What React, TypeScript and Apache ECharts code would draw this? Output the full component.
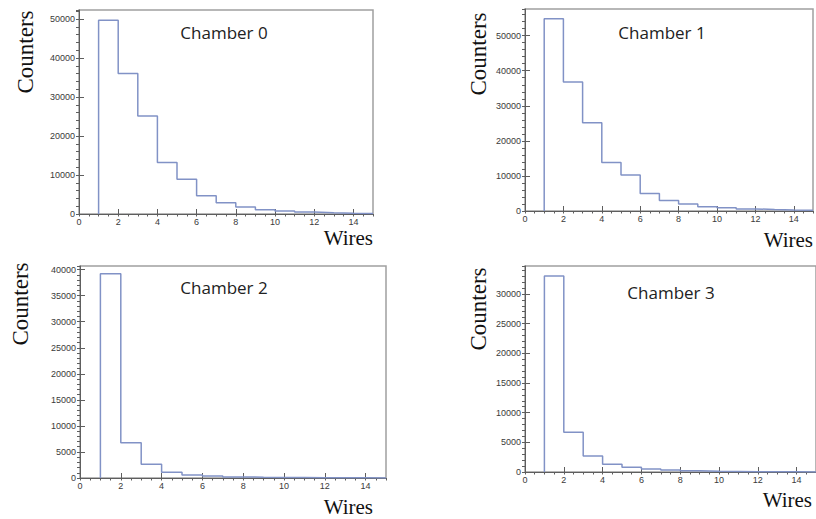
import React, { useEffect, useRef } from "react";
import * as echarts from "echarts";

// Lower edges of the wire-multiplicity bins (each bin is one wire wide)
const binEdges = [1, 2, 3, 4, 5, 6, 7, 8, 9, 10, 11, 12, 13, 14];
const lastEdge = 15;

// Counts per bin for each chamber
const chamber0 = [49700, 36000, 25100, 13200, 8900, 4700, 2900, 1800, 1100, 780, 500, 350, 220, 130];
const chamber1 = [54800, 36800, 25200, 13800, 10300, 5000, 3000, 2000, 1200, 900, 600, 420, 300, 200];
const chamber2 = [39200, 6770, 2620, 1090, 580, 380, 210, 150, 110, 80, 60, 40, 30, 20];
const chamber3 = [33000, 6700, 2700, 1300, 790, 500, 340, 200, 130, 90, 60, 40, 30, 20];

const titles = ["Chamber 0", "Chamber 1", "Chamber 2", "Chamber 3"];
const yMaxes = [52300, 57600, 40700, 34700];
const yMajor = [10000, 10000, 5000, 5000];
const yMinor = [2000, 2000, 1000, 1000];

const LINE = "#8192c6";
const AXIS = "#5e5e5e";
const LABEL = "#3a3a3a";

type Pane = {
  grid: { left: number; top: number; width: number; height: number };
  title: [number, number];
  counters: [number, number];
  wires: [number, number];
};

const panes: Pane[] = [
  { grid: { left: 79, top: 10, width: 294, height: 204 }, title: [224, 32], counters: [25, 52], wires: [373, 238] },
  { grid: { left: 525, top: 9, width: 288, height: 202 }, title: [662, 32], counters: [478, 54], wires: [813, 240] },
  { grid: { left: 80, top: 266, width: 306, height: 212 }, title: [224, 287], counters: [20, 304], wires: [373, 507] },
  { grid: { left: 525, top: 266, width: 292, height: 206 }, title: [671, 292], counters: [478, 309], wires: [812, 500] },
];

function histData(counts: number[]) {
  const pts: [number, number][] = [[binEdges[0], 0]];
  counts.forEach((v, i) => pts.push([binEdges[i], v]));
  pts.push([lastEdge, counts[counts.length - 1]]);
  return pts;
}

const plain = (v: number) => String(v);

export default function App() {
  const ref = useRef<HTMLDivElement>(null);

  useEffect(() => {
    if (!ref.current) return;
    const chart = echarts.init(ref.current, undefined, { renderer: "svg" });
    const all = [chamber0, chamber1, chamber2, chamber3];

    const grids: any[] = [];
    const xAxes: any[] = [];
    const yAxes: any[] = [];
    const series: any[] = [];
    const graphics: any[] = [];

    panes.forEach((p, i) => {
      grids.push({
        ...p.grid,
        show: true,
        borderColor: "#a0a0a0",
        borderWidth: 1.5,
        backgroundColor: "transparent",
      });
      // Major x axis: labelled every 2 wires
      xAxes.push({
        type: "value",
        gridIndex: i,
        min: 0,
        max: lastEdge,
        interval: 2,
        axisLine: { show: true, lineStyle: { color: AXIS, width: 1 } },
        axisTick: { show: true, inside: true, length: 5, lineStyle: { color: AXIS } },
        axisLabel: {
          show: true,
          showMaxLabel: false,
          margin: 3,
          fontSize: 9,
          color: LABEL,
          fontFamily: "Liberation Sans",
          formatter: plain,
        },
        splitLine: { show: false },
      });
      // Minor x ticks every half wire
      xAxes.push({
        type: "value",
        gridIndex: i,
        min: 0,
        max: lastEdge,
        interval: 0.5,
        axisLine: { show: false },
        axisTick: { show: true, inside: true, length: 2.5, lineStyle: { color: AXIS } },
        axisLabel: { show: false },
        splitLine: { show: false },
      });
      yAxes.push({
        type: "value",
        gridIndex: i,
        min: 0,
        max: yMaxes[i],
        interval: yMajor[i],
        axisLine: { show: true, lineStyle: { color: AXIS, width: 1 } },
        axisTick: { show: true, inside: true, length: 5, lineStyle: { color: AXIS } },
        axisLabel: {
          show: true,
          showMaxLabel: false,
          margin: 4,
          fontSize: 9,
          color: LABEL,
          fontFamily: "Liberation Sans",
          formatter: plain,
        },
        splitLine: { show: false },
      });
      yAxes.push({
        type: "value",
        gridIndex: i,
        min: 0,
        max: yMaxes[i],
        interval: yMinor[i],
        axisLine: { show: false },
        axisTick: { show: true, inside: true, length: 3, lineStyle: { color: AXIS } },
        axisLabel: { show: false },
        splitLine: { show: false },
      });
      series.push({
        type: "line",
        xAxisIndex: i * 2,
        yAxisIndex: i * 2,
        step: "end",
        data: histData(all[i]),
        showSymbol: false,
        symbol: "none",
        lineStyle: { color: LINE, width: 1.5 },
        silent: true,
      });

      graphics.push({
        type: "text",
        x: p.title[0],
        y: p.title[1],
        style: {
          text: titles[i],
          font: "17px 'Open Sans'",
          fill: "#222",
          textAlign: "center",
          textVerticalAlign: "middle",
        },
      });
      graphics.push({
        type: "text",
        x: p.counters[0],
        y: p.counters[1],
        rotation: Math.PI / 2,
        style: {
          text: "Counters",
          font: "23px 'Liberation Serif'",
          fill: "#111",
          textAlign: "center",
          textVerticalAlign: "middle",
        },
      });
      graphics.push({
        type: "text",
        x: p.wires[0],
        y: p.wires[1],
        style: {
          text: "Wires",
          font: "21px 'Liberation Serif'",
          fill: "#111",
          textAlign: "right",
          textVerticalAlign: "middle",
        },
      });
    });

    chart.setOption({
      animation: false,
      backgroundColor: "#ffffff",
      grid: grids,
      xAxis: xAxes,
      yAxis: yAxes,
      series,
      graphic: graphics,
    });

    return () => chart.dispose();
  }, []);

  return (
    <div
      ref={ref}
      style={{ position: "absolute", left: 0, top: 0, width: 816, height: 519 }}
    />
  );
}
